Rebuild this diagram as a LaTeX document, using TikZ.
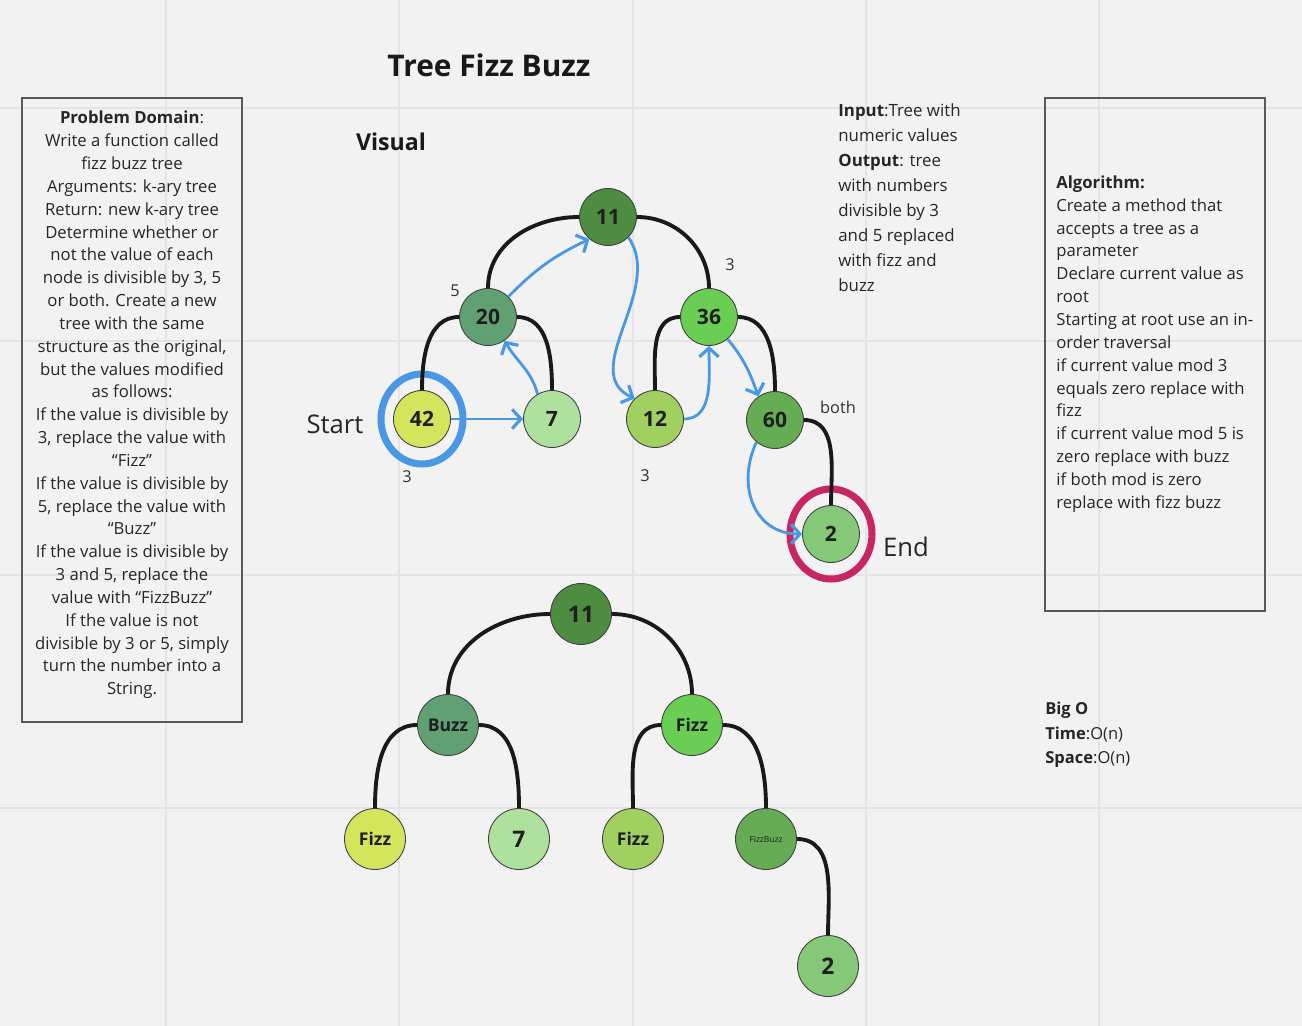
\documentclass[tikz,border=0pt]{standalone}
\usepackage{fontspec}
\setmainfont{Open Sans}
\usetikzlibrary{arrows.meta, math}
\definecolor{board}{RGB}{242,242,242}
\definecolor{gridc}{RGB}{228,228,228}
\definecolor{wblue}{RGB}{74,152,228}
\definecolor{ringred}{RGB}{200,38,98}
\definecolor{g11}{RGB}{78,140,65}
\definecolor{g20}{RGB}{96,160,114}
\definecolor{g36}{RGB}{106,206,84}
\definecolor{g42}{RGB}{212,228,92}
\definecolor{g7}{RGB}{174,224,158}
\definecolor{g12}{RGB}{160,208,96}
\definecolor{g60}{RGB}{102,172,84}
\definecolor{g2}{RGB}{132,200,120}

\begin{document}
\begin{tikzpicture}[x=0.02cm, y=0.02cm,
 vnode/.style={circle, draw=black!75, line width=0.5pt, minimum size=1.14cm, inner sep=0pt, text=black!88, font=\bfseries\fontsize{12}{14}\selectfont},
 onode/.style={vnode, minimum size=1.22cm, font=\bfseries\fontsize{13}{15}\selectfont},
 branch/.style={line width=2.2pt, black!90},
 walk/.style={line width=1.6pt, wblue, -{Straight Barb[length=5pt, width=11pt, line width=1.8pt]}},
 ring/.style={line width=4pt},
 lbl/.style={font=\fontsize{9.3}{11}\selectfont, text=black!80},
 body/.style={font=\fontsize{9.5}{13}\selectfont, text=black!85, inner sep=0pt},
 panel/.style={draw=black!65, line width=0.8pt}
]

\tikzmath{
\g = 233.33;%grid step
\rx = 41;
\ry = 45;
}

%board
\fill[board] (0,0) rectangle (1302,-1026);
\useasboundingbox (0,0) rectangle (1302,-1026);
\foreach \i in {0,...,4}{
 \draw[gridc, line width=1.1pt] ({166+\i*\g},0) -- ({166+\i*\g},-1026);
}
\foreach \i in {0,...,3}{
 \draw[gridc, line width=1.1pt] (0,{-108-\i*\g}) -- (1302,{-108-\i*\g});
}

%titles
\node[font=\bfseries\fontsize{17}{20}\selectfont, text=black!90] (title) at (489,-65) {Tree Fizz Buzz};
\node[font=\bfseries\fontsize{13.2}{16}\selectfont, text=black!90] (visual) at (391,-142) {Visual};

%panels
\draw[panel] (22,-98) rectangle (242,-722);
\draw[panel] (1045,-98) rectangle (1265,-611);

\node[body, align=center] (domain) at (132,-405) {\textbf{Problem Domain}:\\
Write a function called\\ fizz buzz tree\\ Arguments: k-ary tree\\ Return: new k-ary tree\\
Determine whether or\\ not the value of each\\ node is divisible by 3, 5\\ or both. Create a new\\
tree with the same\\ structure as the original,\\ but the values modified\\ as follows:\\
If the value is divisible by\\ 3, replace the value with\\ “Fizz”\\
If the value is divisible by\\ 5, replace the value with\\ “Buzz”\\
If the value is divisible by\\ 3 and 5, replace the\\ value with “FizzBuzz”\\
If the value is not\\ divisible by 3 or 5, simply\\ turn the number into a\\ String.};

\node[body, align=left, anchor=west] (algo) at (1056,-344) {\textbf{Algorithm:}\\
Create a method that\\ accepts a tree as a\\ parameter\\ Declare current value as\\ root\\
Starting at root use an in-\\ order traversal\\ if current value mod 3\\ equals zero replace with\\ fizz\\
if current value mod 5 is\\ zero replace with buzz\\ if both mod is zero\\ replace with fizz buzz};

\node[body, align=left, anchor=west, font=\fontsize{9.6}{14.2}\selectfont] (io) at (838,-198) {\textbf{Input}:Tree with\\
numeric values\\ \textbf{Output}: tree\\ with numbers\\ divisible by 3\\ and 5 replaced\\ with fizz and\\ buzz};

\node[body, align=left, anchor=west, font=\fontsize{9.4}{13.9}\selectfont] (bigo) at (1045,-735) {\textbf{Big O}\\
\textbf{Time}:O(n)\\ \textbf{Space}:O(n)};

%first tree
\node[vnode, fill=g11] (t11) at (608,-217) {11};
\node[vnode, fill=g20] (t20) at (488,-317) {20};
\node[vnode, fill=g36] (t36) at (709,-317) {36};
\node[vnode, fill=g42] (t42) at (422,-419) {42};
\node[vnode, fill=g7] (t7) at (552,-419) {7};
\node[vnode, fill=g12] (t12) at (655,-419) {12};
\node[vnode, fill=g60] (t60) at (775,-420) {60};
\node[vnode, fill=g2] (t2) at (831,-534) {2};

%start and end rings
\draw[ring, wblue] (t42.center) ellipse [x radius=\rx, y radius=\ry];
\draw[ring, ringred] (t2.center) ellipse [x radius=\rx, y radius=\ry];

\draw[branch] (t11.west) to[out=180,in=90] (t20.north);
\draw[branch] (t11.east) to[out=0,in=90] (t36.north);
\draw[branch] (t20.west) to[out=180,in=90] (t42.north);
\draw[branch] (t20.east) to[out=0,in=90] (t7.north);
\draw[branch] (t36.west) to[out=180,in=90] (t12.north);
\draw[branch] (t36.east) to[out=0,in=90] (t60.north);
\draw[branch] (t60.east) to[out=0,in=90] (t2.north);

%traversal
\draw[walk] (t42.east) -- (t7.west);
\draw[walk] (t7.120) to[out=105,in=-60] (t20.-55);
\draw[walk] (t20.45) to[bend left=10] (t11.-130);
\draw[walk] (t11.-45) to[out=-55,in=155] (t12.135);
\draw[walk] (t12.east) to[out=0,in=-90] (t36.south);
\draw[walk] (t36.-50) to[out=-50,in=110] (t60.125);
\draw[walk] (t60.-130) to[out=-115,in=180, looseness=1.2] (t2.west);

\node[lbl] (c5) at (455,-291) {5};
\node[lbl] (c3a) at (730,-265) {3};
\node[lbl] (c3b) at (407,-477) {3};
\node[lbl] (c3c) at (645,-476) {3};
\node[lbl] (cboth) at (838,-407) {both};
\node[font=\fontsize{14.6}{17}\selectfont, text=black!85] (start) at (335,-424) {Start};
\node[font=\fontsize{14.6}{17}\selectfont, text=black!85] (end) at (906,-547) {End};

%second tree
\node[onode, fill=g11] (b11) at (581,-614) {11};
\node[onode, fill=g20, font=\bfseries\fontsize{10}{12}\selectfont] (bbuzz) at (448,-725) {Buzz};
\node[onode, fill=g36, font=\bfseries\fontsize{10}{12}\selectfont] (bfizz) at (692,-725) {Fizz};
\node[onode, fill=g42, font=\bfseries\fontsize{10}{12}\selectfont] (bfizzl) at (375,-839) {Fizz};
\node[onode, fill=g7] (b7) at (519,-839) {7};
\node[onode, fill=g12, font=\bfseries\fontsize{10}{12}\selectfont] (bfizzr) at (633,-839) {Fizz};
\node[onode, fill=g60, font=\fontsize{4.8}{5}\selectfont] (bfb) at (766,-839) {FizzBuzz};
\node[onode, fill=g2] (b2) at (828,-966) {2};

\draw[branch] (b11.west) to[out=180,in=90] (bbuzz.north);
\draw[branch] (b11.east) to[out=0,in=90] (bfizz.north);
\draw[branch] (bbuzz.west) to[out=180,in=90] (bfizzl.north);
\draw[branch] (bbuzz.east) to[out=0,in=90] (b7.north);
\draw[branch] (bfizz.west) to[out=180,in=90] (bfizzr.north);
\draw[branch] (bfizz.east) to[out=0,in=90] (bfb.north);
\draw[branch] (bfb.east) to[out=0,in=90] (b2.north);

\end{tikzpicture}
\end{document}
